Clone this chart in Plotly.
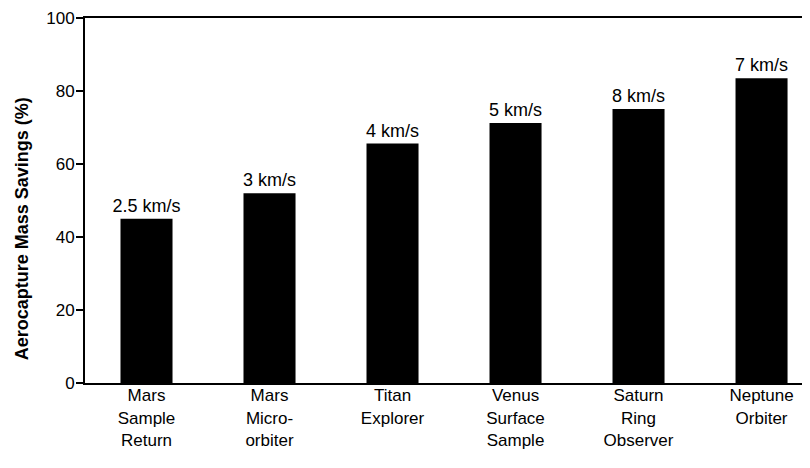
import plotly.graph_objects as go

missions = ["Mars<br>Sample<br>Return", "Mars<br>Micro-<br>orbiter", "Titan<br>Explorer",
            "Venus<br>Surface<br>Sample", "Saturn<br>Ring<br>Observer", "Neptune<br>Orbiter"]
mass_savings = [45, 52, 65.6, 71.2, 75.1, 83.5]
velocity_labels = ["2.5 km/s", "3 km/s", "4 km/s", "5 km/s", "8 km/s", "7 km/s"]
y_ticks = [0, 20, 40, 60, 80, 100]
y_title = "Aerocapture Mass Savings (%)"

FONT = "Liberation Sans, Arial, sans-serif"

fig = go.Figure()
fig.add_trace(go.Bar(
    x=list(range(len(missions))),
    y=mass_savings,
    text=velocity_labels,
    textposition="outside",
    constraintext="none",
    textfont=dict(family=FONT, size=18, color="black"),
    cliponaxis=False,
    marker=dict(color="black", line=dict(width=0)),
))

fig.add_annotation(
    text="<b>" + y_title + "</b>",
    xref="paper", yref="paper", x=0, y=0.421,
    xanchor="center", yanchor="middle", xshift=-63,
    textangle=-90, showarrow=False,
    font=dict(family=FONT, size=18, color="black"),
)

fig.update_layout(
    width=802, height=460,
    margin=dict(l=77, r=0, t=10, b=85),
    plot_bgcolor="white", paper_bgcolor="white",
    bargap=0.577,
    showlegend=False,
    font=dict(family=FONT, color="black"),
    xaxis=dict(
        range=[-0.5, 5.394],
        automargin=False,
        tickmode="array",
        tickvals=list(range(len(missions))),
        ticktext=missions,
        tickfont=dict(family=FONT, size=17, color="black"),
        ticklabelstandoff=-4,
        showline=True, linecolor="black", linewidth=2, mirror=True,
        showgrid=False, zeroline=False, ticks="",
    ),
    yaxis=dict(
        range=[0, 100],
        automargin=False,
        tickmode="array",
        tickvals=y_ticks,
        tickfont=dict(family=FONT, size=17, color="black"),
        ticklabeloverflow="allow",
        ticklabelstandoff=-2,
        ticks="outside", ticklen=7, tickwidth=2, tickcolor="black",
        showline=True, linecolor="black", linewidth=2, mirror=False,
        showgrid=False, zeroline=False,
    ),
)

fig.write_html("out.html")
